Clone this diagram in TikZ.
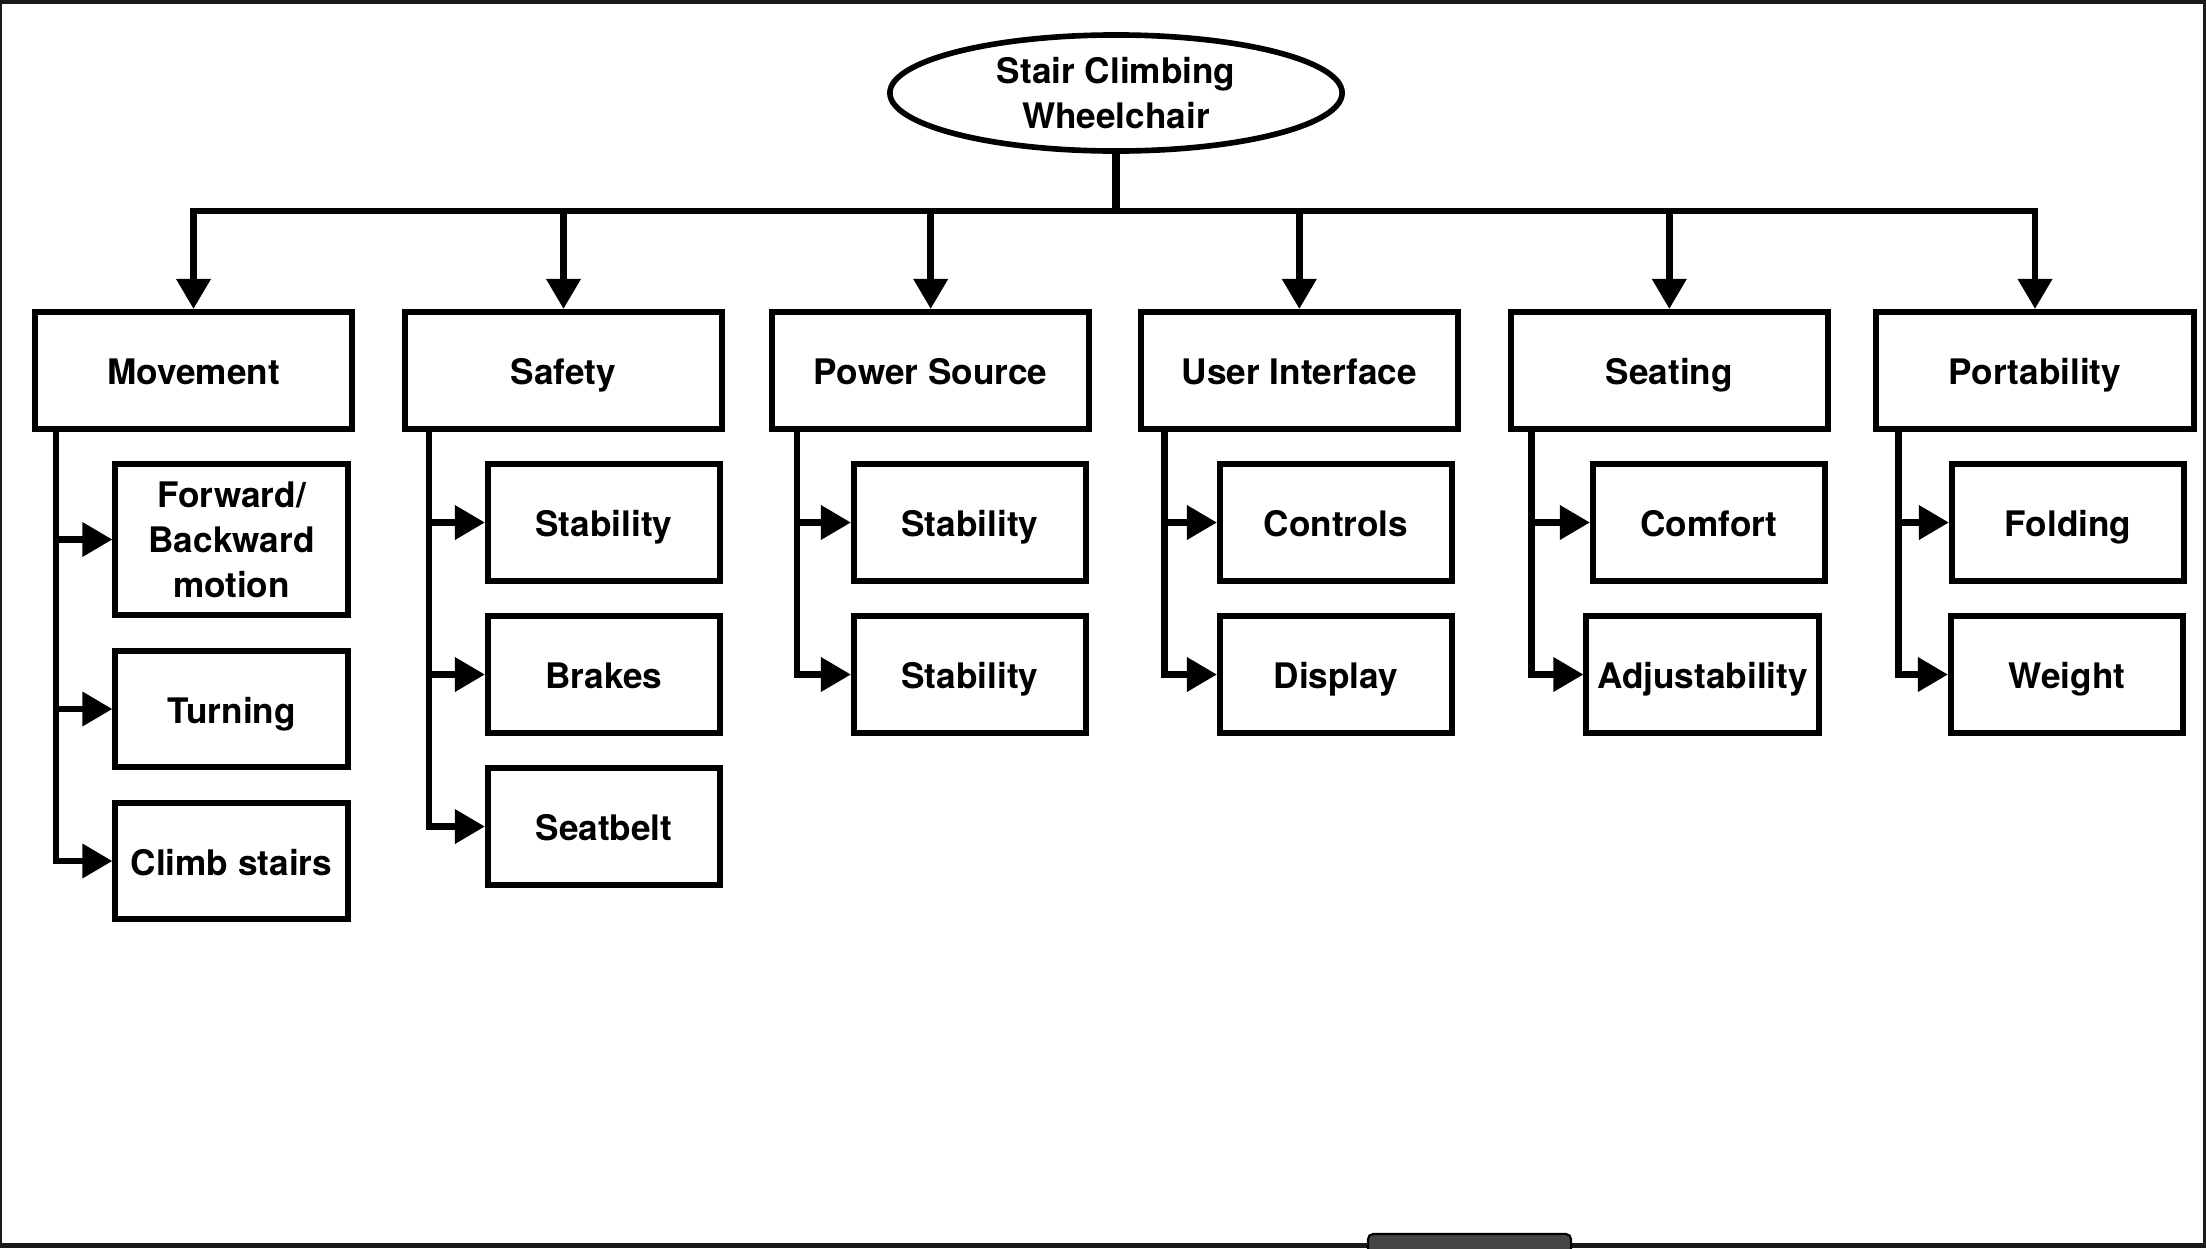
\documentclass[tikz,border=0pt]{standalone}
\usepackage{fontspec}
\setmainfont{TeX Gyre Heros}
\usepackage{tikz}
\usetikzlibrary{arrows.meta,shapes.geometric,positioning}
\definecolor{marco}{HTML}{1A1A1A}
\definecolor{pestana}{HTML}{454545}
\tikzset{
  raiz/.style={ellipse,draw,line width=1.6pt,minimum width=4.52cm,minimum height=1.16cm,align=center,inner sep=0pt},
  caja/.style={rectangle,draw,line width=1.7pt,align=center,inner xsep=2pt},
  cat/.style={caja,minimum width=3.17cm,minimum height=1.17cm,text height=8.8pt,text depth=0.7pt},
  sub/.style={caja,minimum width=2.32cm,minimum height=1.16cm,text height=8.8pt,text depth=0.7pt},
  subalto/.style={caja,minimum width=2.32cm,minimum height=1.5cm},
  linea/.style={line width=2pt},
  flecha/.style={line width=1.9pt,-{Triangle[length=0.3cm,width=0.33cm]}}
}

\begin{document}
\begin{tikzpicture}[x=0.01cm,y=-0.01cm,every node/.style={font=\bfseries\fontsize{10}{12.8}\selectfont}]
\useasboundingbox (0,0) rectangle (2206,1248);
% marco de la captura
\fill[marco] (0,0) rectangle (2206,1248);
\fill[white] (2,4) rectangle (2203,1243);
\filldraw[fill=pestana,draw=black,line width=0.6pt,rounded corners=0.05cm] (1368,1262) rectangle (1571,1234);

\node[raiz] (raiz) at (1116,93) {Stair Climbing\\Wheelchair};
\coordinate (bus) at (1116,211);

% categorias
\node[cat] (mov) at (193.5,370.5) {Movement};
\node[cat] (seg) at (563.5,370.5) {Safety};
\node[cat] (pot) at (930.7,370.5) {Power Source};
\node[cat] (int) at (1299.3,370.5) {User Interface};
\node[cat] (asi) at (1669.3,370.5) {Seating};
\node[cat] (por) at (2035,370.5) {Portability};

% subcategorias
\node[subalto] (adel) at (231.5,539.5) {Forward/\\Backward\\motion};
\node[sub] (giro) at (231.5,709) {Turning};
\node[sub] (esca) at (231.5,861) {Climb stairs};
\node[sub] (estabA) at (604,522.5) {Stability};
\node[sub] (freno) at (604,674.5) {Brakes};
\node[sub] (cint) at (604,826.5) {Seatbelt};
\node[sub] (estabB) at (970,522.5) {Stability};
\node[sub] (estabC) at (970,674.5) {Stability};
\node[sub] (ctrl) at (1336,522.5) {Controls};
\node[sub] (pant) at (1336,674.5) {Display};
\node[sub] (conf) at (1709,522.5) {Comfort};
\node[sub] (ajus) at (1702.5,674.5) {Adjustability};
\node[sub] (pleg) at (2068,522.5) {Folding};
\node[sub] (peso) at (2067,674.5) {Weight};

% raiz -> categorias
\draw[linea] (raiz) -- (bus);
\draw[flecha] (bus) -| (mov);
\draw[flecha] (bus) -| (por);
\draw[flecha] (seg |- bus) -- (seg);
\draw[flecha] (pot |- bus) -- (pot);
\draw[flecha] (int |- bus) -- (int);
\draw[flecha] (asi |- bus) -- (asi);

% troncos
\coordinate (tm) at ([xshift=0.24cm]mov.south west);
\coordinate (ts) at ([xshift=0.27cm]seg.south west);
\coordinate (tp) at ([xshift=0.28cm]pot.south west);
\coordinate (ti) at ([xshift=0.27cm]int.south west);
\coordinate (ta) at ([xshift=0.24cm]asi.south west);
\coordinate (tr) at ([xshift=0.25cm]por.south west);
\draw[flecha] (tm) |- (esca);
\draw[flecha] (tm |- adel) -- (adel);
\draw[flecha] (tm |- giro) -- (giro);
\draw[flecha] (ts) |- (cint);
\draw[flecha] (ts |- estabA) -- (estabA);
\draw[flecha] (ts |- freno) -- (freno);
\draw[flecha] (tp) |- (estabC);
\draw[flecha] (tp |- estabB) -- (estabB);
\draw[flecha] (ti) |- (pant);
\draw[flecha] (ti |- ctrl) -- (ctrl);
\draw[flecha] (ta) |- (ajus);
\draw[flecha] (ta |- conf) -- (conf);
\draw[flecha] (tr) |- (peso);
\draw[flecha] (tr |- pleg) -- (pleg);
\end{tikzpicture}
\end{document}
